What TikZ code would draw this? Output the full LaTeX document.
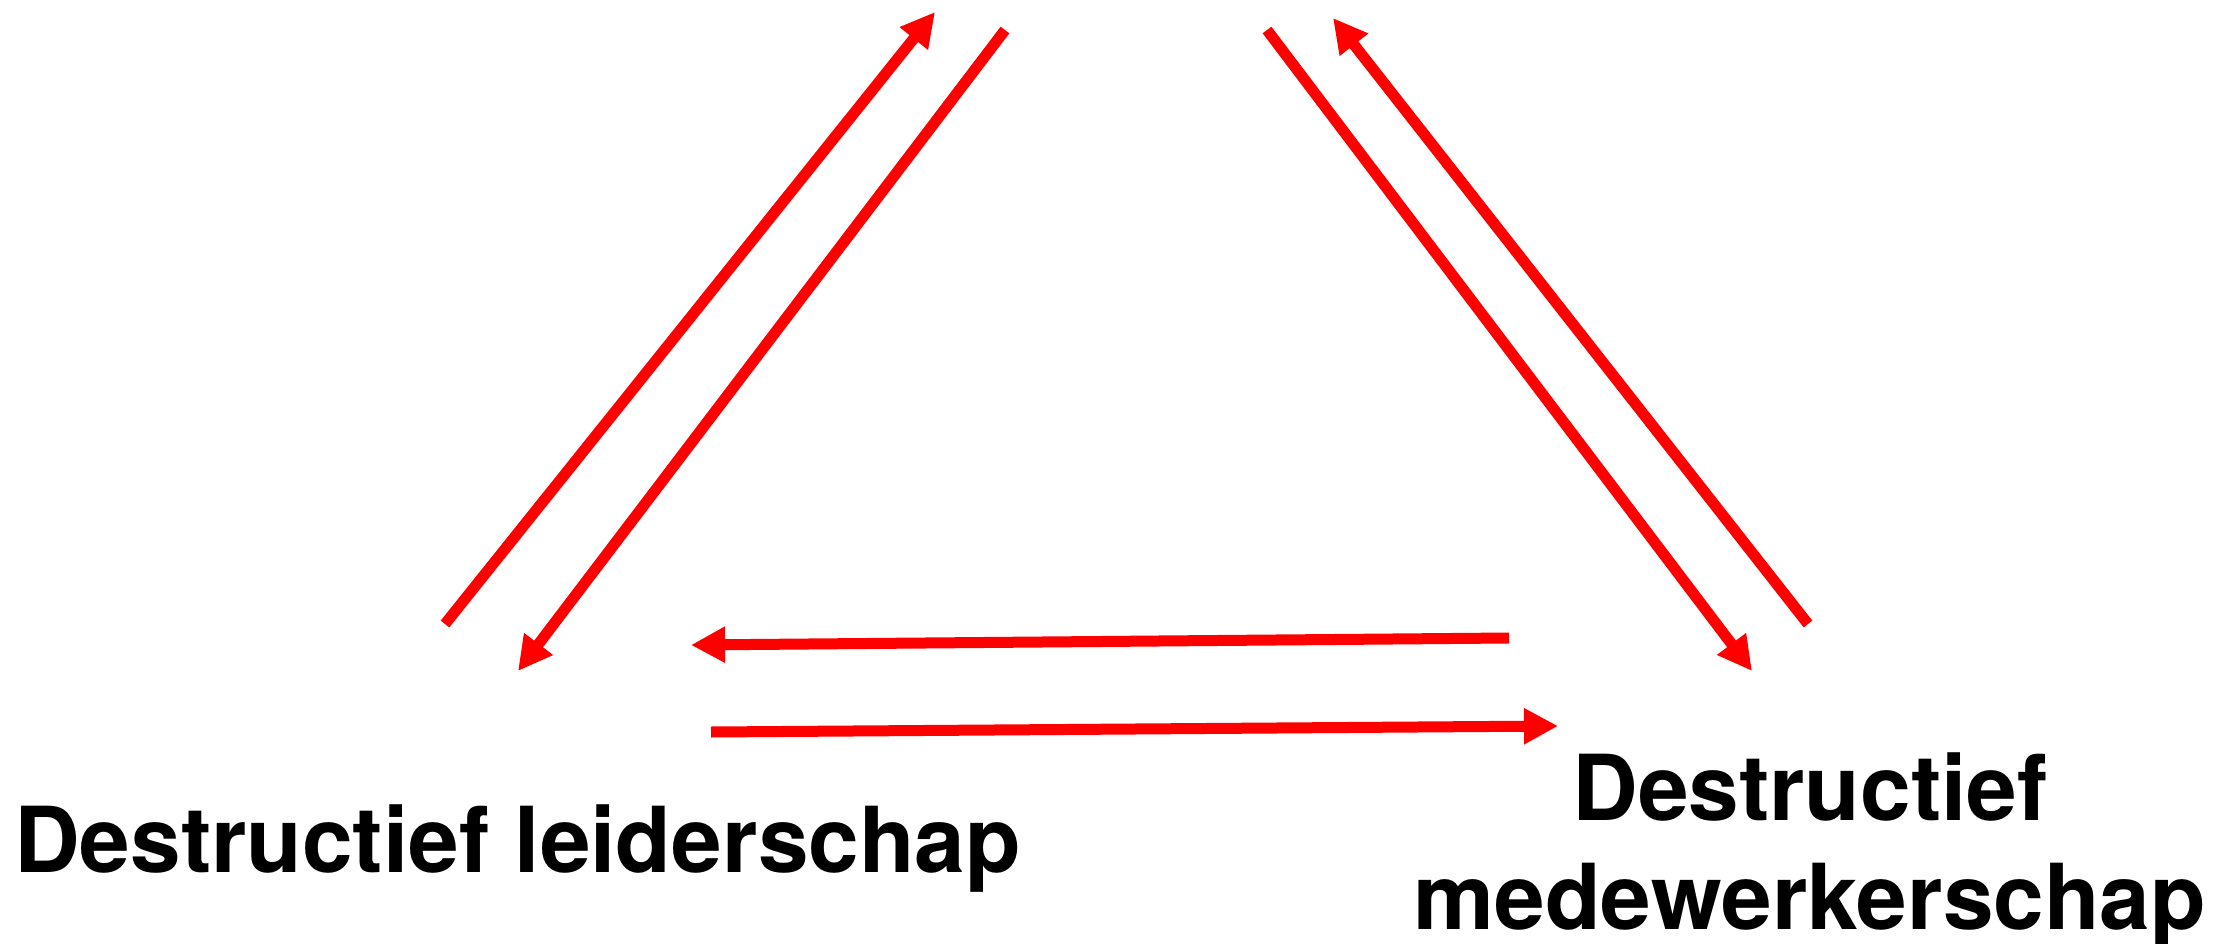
\documentclass[tikz,border=0pt]{standalone}
\usepackage{fontspec}
\setmainfont{TeX Gyre Heros}
\usetikzlibrary{arrows.meta}
\definecolor{arrowred}{HTML}{FF0000}
\tikzset{
  link/.style={draw=arrowred, line width=11pt, line cap=butt,
    -{Triangle[length=34pt,width=34pt]}},
  label/.style={inner sep=0pt, font=\bfseries\fontsize{91}{109}\selectfont, text=black}
}
\begin{document}
\begin{tikzpicture}[x=1pt,y=-1pt]
\useasboundingbox (0,0) rectangle (2223,944);
% end points of the connectors
\coordinate (a1) at (445,624);  \coordinate (b1) at (935,12);
\coordinate (a2) at (1005,30);  \coordinate (b2) at (518,671);
\coordinate (a3) at (1267,30);  \coordinate (b3) at (1752,671);
\coordinate (a4) at (1808,624); \coordinate (b4) at (1333,18);
\coordinate (a5) at (1509,638); \coordinate (b5) at (691,645);
\coordinate (a6) at (711,732);  \coordinate (b6) at (1558,726);
\draw[link] (a1) -- (b1);
\draw[link] (a2) -- (b2);
\draw[link] (a3) -- (b3);
\draw[link] (a4) -- (b4);
\draw[link] (a5) -- (b5);
\draw[link] (a6) -- (b6);
% labels
\node[label, anchor=base west] (leider) at (14,872) {Destructief leiderschap};
\node[label, anchor=north, align=center] (medew) at (1810,752) {Destructief\\medewerkerschap};
\end{tikzpicture}
\end{document}
